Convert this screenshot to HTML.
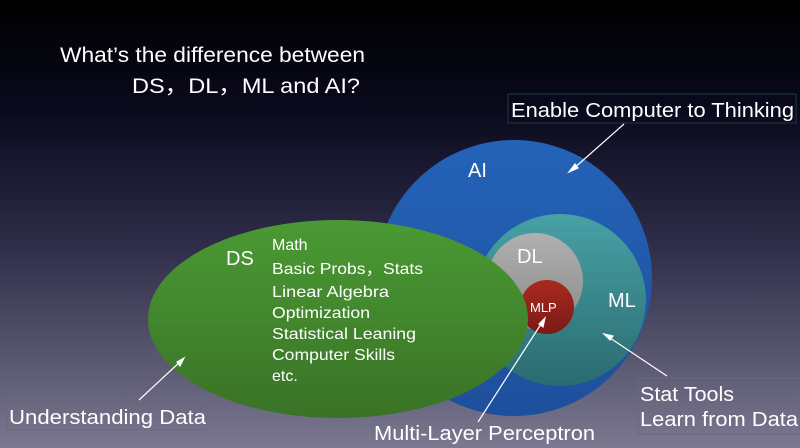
<!DOCTYPE html>
<html><head><style>
html,body{margin:0;padding:0;width:800px;height:448px;overflow:hidden}
svg{display:block}
text{font-family:"Liberation Sans",sans-serif;fill:#fff}
</style></head><body>
<svg width="800" height="448" viewBox="0 0 800 448">
<defs>
<linearGradient id="bg" x1="0" y1="0" x2="0" y2="1">
<stop offset="0" stop-color="#000"/>
<stop offset="0.25" stop-color="#0a0a1e"/>
<stop offset="0.55" stop-color="#2f2d48"/>
<stop offset="1" stop-color="#7b7890"/>
</linearGradient>
<linearGradient id="ai" x1="0" y1="0" x2="0" y2="1"><stop offset="0" stop-color="#2463b8"/><stop offset="1" stop-color="#1d4f9c"/></linearGradient>
<linearGradient id="ml" x1="0" y1="0" x2="0" y2="1"><stop offset="0" stop-color="#47a1a6"/><stop offset="1" stop-color="#2a6b70"/></linearGradient>
<linearGradient id="dl" x1="0" y1="0" x2="0" y2="1"><stop offset="0" stop-color="#b0b0b0"/><stop offset="1" stop-color="#8a8a8a"/></linearGradient>
<linearGradient id="mlp" x1="0" y1="0" x2="0" y2="1"><stop offset="0" stop-color="#a82a20"/><stop offset="1" stop-color="#7a1a14"/></linearGradient>
<linearGradient id="ds" x1="0" y1="0" x2="0" y2="1"><stop offset="0" stop-color="#4a9a34"/><stop offset="1" stop-color="#3a7226"/></linearGradient>
</defs>
<rect width="800" height="448" fill="url(#bg)"/>
<text x="60" y="62" font-size="21" textLength="305" lengthAdjust="spacingAndGlyphs">What’s the difference between</text>
<text x="132" y="93" font-size="21" textLength="228" lengthAdjust="spacingAndGlyphs">DS，DL，ML and AI?</text>
<circle cx="514" cy="278" r="138" fill="url(#ai)"/>
<circle cx="560" cy="300" r="86" fill="url(#ml)"/>
<circle cx="535" cy="281" r="48" fill="url(#dl)"/>
<circle cx="547" cy="307" r="27" fill="url(#mlp)"/>
<ellipse cx="338" cy="319" rx="190" ry="99" fill="url(#ds)"/>
<text x="468" y="177" font-size="20">AI</text>
<text x="517" y="263" font-size="20">DL</text>
<text x="608" y="307" font-size="20">ML</text>
<text x="530" y="312" font-size="13">MLP</text>
<text x="226" y="265" font-size="20">DS</text>
<g font-size="16">
<text x="272" y="250">Math</text>
<text x="272" y="274" textLength="151" lengthAdjust="spacingAndGlyphs">Basic Probs，Stats</text>
<text x="272" y="297" textLength="117" lengthAdjust="spacingAndGlyphs">Linear Algebra</text>
<text x="272" y="318" textLength="98" lengthAdjust="spacingAndGlyphs">Optimization</text>
<text x="272" y="339" textLength="144" lengthAdjust="spacingAndGlyphs">Statistical Leaning</text>
<text x="272" y="360" textLength="123" lengthAdjust="spacingAndGlyphs">Computer Skills</text>
<text x="272" y="381">etc.</text>
</g>
<rect x="508" y="94" width="288" height="29" fill="none" stroke="#1c3a3a" stroke-width="1"/>
<text x="511" y="117" font-size="20" textLength="283" lengthAdjust="spacingAndGlyphs">Enable Computer to Thinking</text>
<rect x="638" y="378" width="162" height="56" fill="none" stroke="#6a6a80" stroke-width="1"/>
<text x="640" y="401" font-size="20" textLength="94" lengthAdjust="spacingAndGlyphs">Stat Tools</text>
<text x="640" y="426" font-size="20" textLength="158" lengthAdjust="spacingAndGlyphs">Learn from Data</text>
<rect x="7" y="400" width="201" height="30" fill="none" stroke="#6a6a80" stroke-width="1"/>
<text x="9" y="424" font-size="20" textLength="197" lengthAdjust="spacingAndGlyphs">Understanding Data</text>
<text x="374" y="440" font-size="20" textLength="221" lengthAdjust="spacingAndGlyphs">Multi-Layer Perceptron</text>
<g stroke="#fff" stroke-width="1.2" fill="#fff">
<line x1="624" y1="124" x2="572" y2="170"/><polygon points="569,172 575,164 578,168"/>
<line x1="667" y1="376" x2="607" y2="336"/><polygon points="604,334 613,336 610,340"/>
<line x1="478" y1="422" x2="543" y2="321"/><polygon points="545,318 543,327 539,324"/>
<line x1="139" y1="400" x2="182" y2="360"/><polygon points="184,358 180,366 177,362"/>
</g>
</svg>
</body></html>
